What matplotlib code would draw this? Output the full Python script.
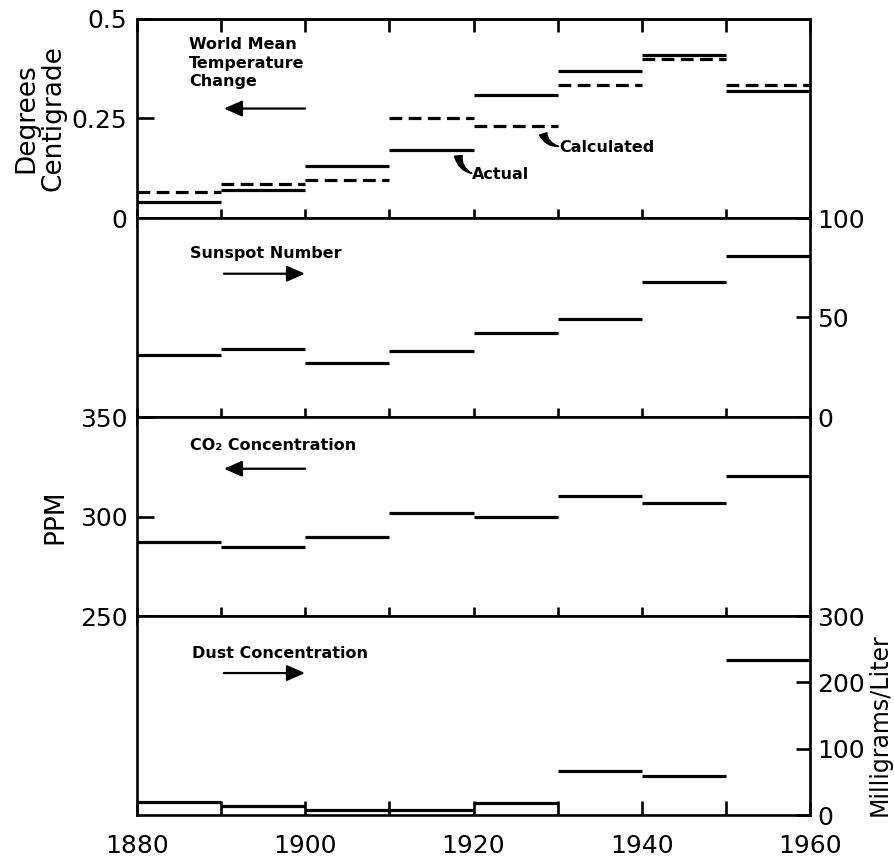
import numpy as np
import matplotlib.pyplot as plt

# decade means
decades = np.arange(1880, 1960, 10)
temp_actual = [0.04, 0.07, 0.13, 0.17, 0.31, 0.37, 0.41, 0.32]
temp_calculated = [0.065, 0.085, 0.095, 0.25, 0.23, 0.335, 0.40, 0.335]
sunspots = [31, 34, 27, 33, 42, 49, 68, 81]
co2_ppm = [287, 284.5, 289.5, 302, 300, 310.5, 307, 320.5]
dust_mg = [19, 14, 8, 7, 18, 67, 59, 234]

year_ticks = np.arange(1880, 1961, 10)
year_labels = ["1880", "", "1900", "", "1920", "", "1940", "", "1960"]

LW = 2.3
SP = 1.9
plt.rcParams["font.family"] = ["DejaVu Sans"]

fig = plt.figure(figsize=(8.94, 8.63), dpi=100)
left, width = 137 / 894, (810 - 137) / 894
bottom0, h = 1 - 815 / 863, 199 / 863
axes = []
for i in range(4):
    ax = fig.add_axes([left, bottom0 + (3 - i) * h, width, h])
    ax.set_xlim(1880, 1960)
    ax.set_xticks(year_ticks)
    for s in ax.spines.values():
        s.set_linewidth(SP)
    if i < 3:
        ax.tick_params(axis="x", direction="inout", length=13, width=SP,
                       labelbottom=False)
    else:
        ax.tick_params(axis="x", direction="in", length=10, width=SP,
                       labelsize=18, pad=14)
        ax.set_xticklabels(year_labels)
    axes.append(ax)

ax_t, ax_s, ax_c, ax_d = axes
ends = decades + 10

# temperature
ax_t.hlines(temp_actual, decades, ends, color="k", lw=LW)
ax_t.hlines(temp_calculated, decades, ends, color="k", lw=LW,
            linestyles=[(0, (4, 2))])
ax_t.set_ylim(0, 0.5)
ax_t.set_yticks([0, 0.25, 0.5])
ax_t.set_yticklabels(["0", "0.25", "0.5"])
ax_t.tick_params(axis="y", direction="in", length=12, width=SP,
                 labelsize=18, pad=7)
top = ax_t.secondary_xaxis("top")
top.set_xticks(year_ticks)
top.tick_params(direction="in", length=9, width=SP, labeltop=False)
top.spines["top"].set_linewidth(SP)
ax_t.set_ylabel("Degrees\nCentigrade", fontsize=19, labelpad=4,
                linespacing=1.05)

# sunspots
ax_s.hlines(sunspots, decades, ends, color="k", lw=LW)
ax_s.set_ylim(0, 100)
ax_s.set_yticks([0, 50, 100])
ax_s.tick_params(axis="y", left=False, labelleft=False, right=True,
                 labelright=True, direction="in", length=10, width=SP,
                 labelsize=18, pad=5)

# CO2
ax_c.hlines(co2_ppm, decades, ends, color="k", lw=LW)
ax_c.set_ylim(250, 350)
ax_c.set_yticks([250, 300, 350])
ax_c.tick_params(axis="y", direction="in", length=12, width=SP,
                 labelsize=18, pad=7)
ax_c.set_ylabel("PPM", fontsize=19, labelpad=8)

# dust
ax_d.hlines(dust_mg, decades, ends, color="k", lw=LW)
ax_d.set_ylim(0, 300)
ax_d.set_yticks([0, 100, 200, 300])
ax_d.tick_params(axis="y", left=False, labelleft=False, right=True,
                 labelright=True, direction="in", length=10, width=SP,
                 labelsize=18, pad=5)
fig.text(880 / 894, 1 - 725 / 863, "Milligrams/Liter", rotation=90,
         fontsize=17, ha="center", va="center")

# panel captions and axis arrows
cap = dict(fontsize=11.5, fontweight="bold", ha="left", va="center")
arr = dict(arrowstyle="-|>,head_length=0.5,head_width=0.22", lw=1.6,
           color="k", mutation_scale=22)
ax_t.text(1886.2, 0.455, "World Mean\nTemperature\nChange", va="top",
          ha="left", fontsize=11.5, fontweight="bold", linespacing=1.3)
ax_t.annotate("", xy=(1890, 0.275), xytext=(1900.3, 0.275), arrowprops=arr)
ax_s.text(1886.3, 82, "Sunspot Number", **cap)
ax_s.annotate("", xy=(1900.3, 72), xytext=(1890, 72), arrowprops=arr)
ax_c.text(1886.3, 335.5, "CO\u2082 Concentration", **cap)
ax_c.annotate("", xy=(1890, 324), xytext=(1900.3, 324), arrowprops=arr)
ax_d.text(1886.5, 244, "Dust Concentration", **cap)
ax_d.annotate("", xy=(1900.3, 214), xytext=(1890, 214), arrowprops=arr)

# teardrop pointers from the lines to their labels
wedge = dict(arrowstyle="wedge,tail_width=0.55", color="k",
             connectionstyle="arc3,rad=0.35", shrinkA=2, shrinkB=0)
ax_t.annotate("", xy=(1919.8, 0.112), xytext=(1918.2, 0.163),
              arrowprops=wedge)
ax_t.text(1919.8, 0.11, "Actual", fontsize=11.5, fontweight="bold",
          va="center", ha="left")
ax_t.annotate("", xy=(1930.1, 0.18), xytext=(1928.2, 0.218),
              arrowprops=wedge)
ax_t.text(1930.2, 0.178, "Calculated", fontsize=11.5, fontweight="bold",
          va="center", ha="left")

fig.savefig("out.png", dpi=100)
